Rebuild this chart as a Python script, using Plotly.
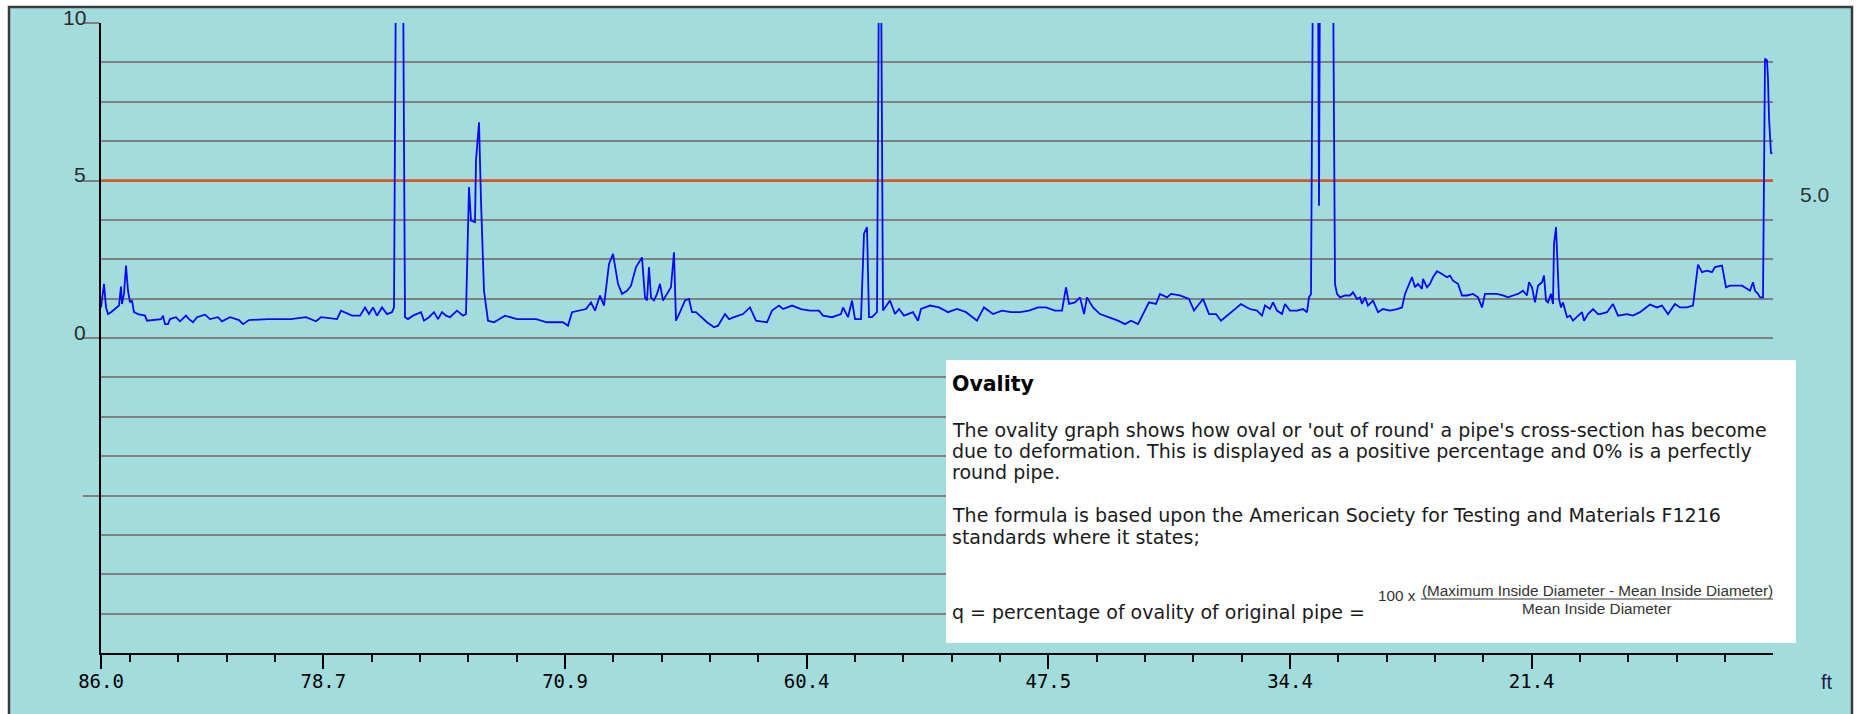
import plotly.graph_objects as go

# Scan position along the run (sample index) and ovality in percent
SCAN_POS = [
    0, 3, 5, 7, 10, 14, 18, 20, 21, 23, 25, 27, 29, 31, 33, 37, 44, 46, 52, 60,
    62, 64, 67, 69, 75, 79, 85, 88, 92, 96, 104, 109, 117, 121, 129, 138, 142, 148, 167, 190,
    205, 215, 220, 236, 240, 243, 251, 259, 264, 268, 272, 276, 281, 286, 291, 293, 295, 302, 304, 307,
    312, 320, 323, 328, 333, 337, 341, 345, 349, 356, 362, 365, 368, 370, 374, 375, 378, 380, 383, 387,
    393, 404, 416, 435, 446, 462, 467, 471, 477, 485, 490, 494, 499,
    503, 508, 512, 517, 521, 526, 530, 535, 541, 544, 546, 548, 550, 553, 556, 559, 562, 566, 570, 573,
    575, 579, 584, 588, 591, 595, 599, 606, 613, 617, 624, 628, 633, 642, 649, 655, 666, 671, 678, 682,
    691, 700, 709, 718, 722, 731, 740, 742, 747, 751, 754, 760, 763, 766, 768, 771, 776, 778, 780, 782,
    789, 794, 798, 803, 812, 817, 820, 829, 838, 847, 856, 865, 876, 883, 892, 901, 910, 919, 928, 937,
    945, 954, 961, 965, 968, 974, 979, 983, 986, 992, 999, 1008, 1017, 1024, 1030, 1037, 1041, 1048, 1055, 1059,
    1066, 1070, 1079, 1088, 1093, 1102, 1108, 1115, 1120, 1128, 1140, 1146,
    1149, 1156, 1161, 1164, 1169, 1172, 1176, 1181, 1184, 1189, 1196, 1202, 1206, 1208, 1210, 1212, 1217, 1218, 1219, 1232,
    1234, 1236, 1239, 1244, 1249, 1252, 1256, 1259, 1261, 1264, 1267, 1272, 1277, 1282, 1289, 1296, 1301, 1304, 1307, 1311,
    1314, 1317, 1321, 1322, 1326, 1329, 1332, 1336, 1341, 1346, 1349, 1352, 1357, 1361, 1366, 1372, 1377, 1381, 1384, 1389,
    1396, 1402, 1407, 1412, 1417, 1422, 1426, 1428, 1431, 1434, 1437, 1441, 1443, 1445, 1447, 1450, 1452, 1453, 1455, 1456,
    1458, 1460, 1462, 1466, 1469, 1472, 1476, 1481, 1483, 1487, 1492, 1497,
    1499, 1506, 1512, 1517, 1526, 1532, 1539, 1549, 1556, 1561, 1567, 1574, 1579, 1586, 1592, 1594, 1597, 1601, 1606, 1611,
    1614, 1621, 1625, 1629, 1636, 1641, 1646, 1649, 1652, 1654, 1657, 1659, 1662, 1663, 1664, 1666, 1667, 1668, 1670, 1671,
]
OVALITY = [
    0.97, 1.72, 0.97, 0.76, 0.82, 0.92, 1.03, 1.63, 1.08, 1.40, 2.30, 1.50, 1.13, 1.19, 0.82, 0.76, 0.71, 0.55, 0.57, 0.60,
    0.71, 0.44, 0.44, 0.60, 0.66, 0.53, 0.71, 0.60, 0.50, 0.66, 0.74, 0.60, 0.66, 0.53, 0.66, 0.57, 0.44, 0.57, 0.60, 0.60,
    0.66, 0.53, 0.66, 0.60, 0.87, 0.82, 0.71, 0.71, 0.97, 0.76, 0.97, 0.71, 0.97, 0.76, 0.82, 0.97, 12.0, 12.0, 0.66, 0.60,
    0.71, 0.82, 0.55, 0.66, 0.82, 0.60, 0.82, 0.71, 0.66, 0.87, 0.71, 0.76, 4.79, 3.73, 3.68, 5.64, 6.85, 4.36, 1.50, 0.55,
    0.50, 0.71, 0.60, 0.60, 0.50, 0.50, 0.39, 0.82, 0.87, 0.92, 1.13, 0.87, 1.35,
    1.03, 2.35, 2.67, 1.72, 1.40, 1.50, 1.66, 2.25, 2.56, 1.29, 1.19, 2.25, 1.29, 1.19, 1.40, 1.72, 1.19, 1.40, 1.61, 2.72,
    0.55, 0.82, 1.19, 1.24, 0.82, 0.82, 0.71, 0.50, 0.34, 0.39, 0.76, 0.60, 0.66, 0.76, 0.97, 0.55, 0.50, 0.87, 1.03, 0.92,
    1.03, 0.92, 0.87, 0.87, 0.71, 0.66, 0.76, 0.97, 0.66, 1.19, 0.60, 0.60, 3.31, 3.52, 0.66, 0.66, 0.82, 12.0, 12.0, 0.87,
    1.19, 0.76, 0.92, 0.71, 0.82, 0.55, 0.92, 1.03, 0.97, 0.82, 0.92, 0.82, 0.55, 0.97, 0.76, 0.87, 0.82, 0.82, 0.87, 0.97,
    0.97, 0.87, 0.87, 1.61, 1.08, 1.13, 1.29, 0.76, 1.29, 0.97, 0.76, 0.66, 0.55, 0.44, 0.55, 0.44, 0.71, 1.13, 1.08, 1.40,
    1.29, 1.40, 1.35, 1.24, 0.87, 1.24, 0.76, 0.76, 0.55, 0.76, 1.08, 0.97,
    0.92, 0.87, 0.71, 1.03, 0.92, 1.13, 0.87, 0.76, 1.08, 0.87, 0.87, 0.92, 0.82, 1.29, 1.40, 12.0, 12.0, 4.20, 12.0, 12.0,
    1.72, 1.40, 1.29, 1.35, 1.35, 1.45, 1.24, 1.29, 1.08, 1.29, 1.03, 1.19, 0.82, 0.92, 0.87, 0.92, 0.97, 1.40, 1.61, 1.93,
    1.61, 1.72, 1.56, 1.88, 1.61, 1.72, 1.93, 2.12, 2.03, 1.93, 1.98, 1.82, 1.72, 1.35, 1.35, 1.40, 1.29, 0.97, 1.40, 1.40,
    1.40, 1.35, 1.29, 1.35, 1.40, 1.50, 1.35, 1.77, 1.61, 1.13, 1.66, 1.77, 1.98, 1.19, 1.13, 1.40, 1.08, 2.99, 3.52, 2.78,
    1.24, 0.97, 1.13, 0.66, 0.71, 0.55, 0.66, 0.82, 0.55, 0.76, 0.92, 0.76,
    0.76, 0.82, 1.08, 0.71, 0.76, 0.71, 0.82, 1.06, 0.97, 1.03, 0.76, 1.08, 0.97, 0.97, 1.03, 1.50, 2.33, 2.09, 2.14, 2.09,
    2.25, 2.30, 1.61, 1.66, 1.66, 1.66, 1.56, 1.50, 1.77, 1.50, 1.40, 1.29, 1.29, 5.42, 8.87, 8.81, 8.23, 7.00, 5.85, 5.90,
]

# Distance labels (ft) along the bottom axis
DIST_LABELS = ["86.0", "78.7", "70.9", "60.4", "47.5", "34.4", "21.4", "10.0"]
SCAN_END = 1672
MAJOR_STEP = 241.67
MAJOR_TICKS = [0] + [222.33 + k * MAJOR_STEP for k in range(7)]
MINOR_TICKS = [29.0 + k * MAJOR_STEP / 5 for k in range(35)]

THRESHOLD = 5.0
Y_TICKS = [10, 5, 0, -5]
Y_LABELS = {10: "10", 5: "5", 0: "0"}

TEAL = "#a2dcdc"
W, H = 1857, 714
L, R, T, B = 101, 84, 23, 61
PW, PH = W - L - R, H - T - B


def px(xpix):
    return (xpix - L) / PW


def py(ypix):
    return (H - B - ypix) / PH


fig = go.Figure()
fig.add_trace(go.Scatter(
    x=SCAN_POS, y=OVALITY, mode="lines",
    line=dict(color="#0a0af5", width=1.8),
    hoverinfo="skip", showlegend=False,
))

shapes = [
    # outer panel frame
    dict(type="rect", xref="paper", yref="paper",
         x0=px(9), x1=px(1852), y0=py(730), y1=py(7),
         line=dict(color="#3a3a3a", width=2.5), fillcolor=TEAL, layer="below"),
    # threshold line
    dict(type="line", xref="x", yref="y", x0=0, x1=SCAN_END, y0=THRESHOLD, y1=THRESHOLD,
         line=dict(color="#de5220", width=2.5), layer="between"),
    # information panel
    dict(type="rect", xref="paper", yref="paper",
         x0=px(946), x1=px(1796), y0=py(643), y1=py(360),
         line=dict(width=0), fillcolor="white", layer="above"),
    # fraction bar of the formula
    dict(type="line", xref="paper", yref="paper",
         x0=px(1421), x1=px(1773), y0=py(599), y1=py(599),
         line=dict(color="#333333", width=1), layer="above"),
]

body_font = dict(family="DejaVu Sans", size=19, color="#1a1a1a")
formula_font = dict(family="Liberation Sans", size=15.3, color="#333333")

annotations = [
    dict(text="<b>Ovality</b>", x=px(950), y=py(384),
         font=dict(family="DejaVu Sans", size=20.5, color="#000000")),
    dict(text="The ovality graph shows how oval or 'out of round' a pipe's cross-section has become",
         x=px(950), y=py(430), font=body_font),
    dict(text="due to deformation. This is displayed as a positive percentage and 0% is a perfectly",
         x=px(950), y=py(451), font=body_font),
    dict(text="round pipe.", x=px(950), y=py(472), font=body_font),
    dict(text="The formula is based upon the American Society for Testing and Materials F1216",
         x=px(950), y=py(515), font=body_font),
    dict(text="standards where it states;", x=px(950), y=py(537), font=body_font),
    dict(text="q = percentage of ovality of original pipe =", x=px(950), y=py(612), font=body_font),
    dict(text="100 x", x=px(1376), y=py(595), font=formula_font),
    dict(text="(Maximum Inside Diameter - Mean Inside Diameter)", x=px(1597), y=py(590),
         xanchor="center", font=formula_font),
    dict(text="Mean Inside Diameter", x=px(1597), y=py(608), xanchor="center", font=formula_font),
    dict(text=f"{THRESHOLD:.1f}", x=px(1814), y=py(194), xanchor="center",
         font=dict(family="Liberation Sans", size=21, color="#333333")),
    dict(text="ft", x=px(1827), y=py(682), xanchor="center",
         font=dict(family="Liberation Sans", size=20, color="#1c1c48")),
]
# left value labels, sitting just above their tick lines
for val, lab in Y_LABELS.items():
    annotations.append(dict(text=lab, x=px(88), y=val, yref="y", xanchor="right", yshift=6,
                            font=dict(family="Liberation Sans", size=21, color="#2a2a2a")))
for a in annotations:
    a.setdefault("xref", "paper")
    a.setdefault("yref", "paper")
    a.setdefault("xanchor", "left")
    a.setdefault("yanchor", "middle")
    a.setdefault("showarrow", False)

fig.update_layout(
    width=W, height=H,
    margin=dict(l=L, r=R, t=T, b=B, pad=0),
    paper_bgcolor="white",
    plot_bgcolor=TEAL,
    shapes=shapes,
    annotations=annotations,
    showlegend=False,
    xaxis=dict(
        range=[0, SCAN_END], showgrid=False, zeroline=False,
        showline=True, linecolor="#000000", linewidth=2,
        tickmode="array", tickvals=MAJOR_TICKS, ticktext=DIST_LABELS,
        ticks="outside", ticklen=14, tickwidth=2, tickcolor="#000000",
        tickfont=dict(family="DejaVu Sans Mono", size=19, color="#000000"),
        ticklabelstandoff=-4,
        minor=dict(tickmode="array", tickvals=MINOR_TICKS, ticks="outside",
                   ticklen=7, tickwidth=2, tickcolor="#000000", showgrid=False),
        fixedrange=True,
    ),
    yaxis=dict(
        range=[-10, 10], zeroline=False,
        showline=True, linecolor="#000000", linewidth=1.5,
        tickmode="array", tickvals=Y_TICKS, showticklabels=False,
        ticks="outside", ticklen=16, tickwidth=2, tickcolor="#808080",
        showgrid=True, gridcolor="#808080", gridwidth=2,
        minor=dict(tick0=0, dtick=1.25, showgrid=True, gridcolor="#808080", gridwidth=2, ticks=""),
        fixedrange=True,
    ),
)

fig.write_html("out.html", config={"displayModeBar": False})
